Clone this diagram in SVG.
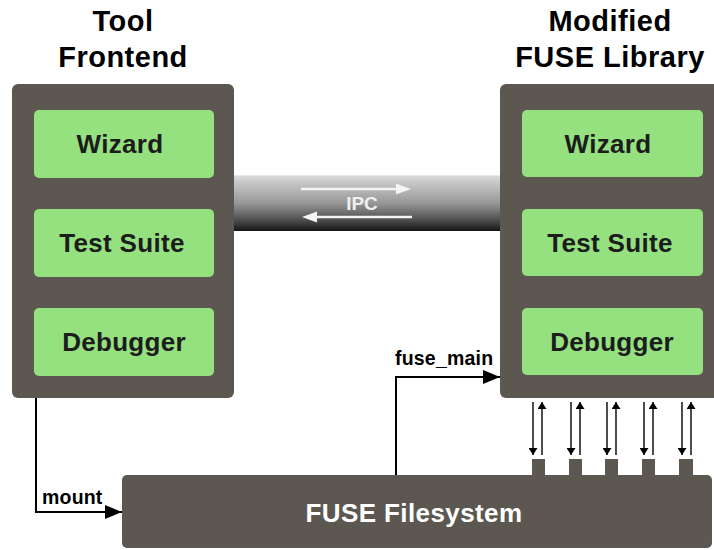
<svg xmlns="http://www.w3.org/2000/svg" width="714" height="550" viewBox="0 0 714 550">
<defs>
<style>
.panel{fill:#5c5750}
.box{fill:#95e07f}
.lbl{font-family:"Liberation Sans",Arial,sans-serif;font-weight:bold;font-size:26px;fill:#1c1c1c;text-anchor:middle;letter-spacing:0.3px}
.title{font-family:"Liberation Sans",Arial,sans-serif;font-weight:bold;font-size:29px;fill:#000;text-anchor:middle;letter-spacing:0.5px}
.cl{font-family:"Liberation Sans",Arial,sans-serif;font-weight:bold;font-size:19.5px;fill:#000;letter-spacing:0.2px}
.conn{fill:none;stroke:#000;stroke-width:2}
.thin{fill:none;stroke:#000;stroke-width:1.4}
</style>
<linearGradient id="tube" x1="0" y1="0" x2="0" y2="1">
<stop offset="0" stop-color="#dcdcdc"/>
<stop offset="0.12" stop-color="#c9c9c9"/>
<stop offset="0.5" stop-color="#989898"/>
<stop offset="0.82" stop-color="#4a4a4a"/>
<stop offset="1" stop-color="#141414"/>
</linearGradient>
<marker id="ah" viewBox="0 0 17 14" refX="17" refY="7" markerWidth="17" markerHeight="14" markerUnits="userSpaceOnUse" orient="auto">
<path d="M0 0 L17 7 L0 14 Z" fill="#000"/>
</marker>
<marker id="sh" viewBox="0 0 7 9" refX="7" refY="4.5" markerWidth="7" markerHeight="9" markerUnits="userSpaceOnUse" orient="auto">
<path d="M0 0 L7 4.5 L0 9 Z" fill="#000"/>
</marker>
</defs>
<rect width="714" height="550" fill="#fff"/>

<g id="ipc">
<rect x="234" y="175" width="266" height="56" fill="url(#tube)"/>
<line x1="234" y1="175.5" x2="500" y2="175.5" stroke="#e8e8e8" stroke-width="1"/>
<line x1="301" y1="189" x2="397" y2="189" stroke="#f4f4f4" stroke-width="2.5"/>
<path d="M396 183.5 L411 189 L396 194.5 Z" fill="#f4f4f4"/>
<line x1="316" y1="217" x2="412" y2="217" stroke="#f4f4f4" stroke-width="2.5"/>
<path d="M317 211.5 L302 217 L317 222.5 Z" fill="#f4f4f4"/>
<text x="362" y="210" font-family="Liberation Sans,Arial,sans-serif" font-weight="bold" font-size="19" fill="#f0f0f0" text-anchor="middle">IPC</text>
</g>

<g id="tool-frontend">
<text class="title" x="123" y="31">Tool</text>
<text class="title" x="123" y="67">Frontend</text>
<rect class="panel" x="12" y="84" width="222" height="314" rx="6"/>
<rect class="box" x="34" y="110" width="180" height="68" rx="5"/>
<text class="lbl" x="120" y="153">Wizard</text>
<rect class="box" x="34" y="209" width="180" height="68" rx="5"/>
<text class="lbl" x="122" y="252">Test Suite</text>
<rect class="box" x="34" y="308" width="180" height="68" rx="5"/>
<text class="lbl" x="124" y="351">Debugger</text>
</g>

<g id="fuse-library">
<text class="title" x="610" y="31">Modified</text>
<text class="title" x="610" y="67">FUSE Library</text>
<rect class="panel" x="500" y="84" width="220" height="314" rx="6"/>
<rect class="box" x="522" y="110" width="181" height="67" rx="5"/>
<text class="lbl" x="608" y="153">Wizard</text>
<rect class="box" x="522" y="209" width="181" height="67" rx="5"/>
<text class="lbl" x="610" y="252">Test Suite</text>
<rect class="box" x="522" y="308" width="181" height="67" rx="5"/>
<text class="lbl" x="612" y="351">Debugger</text>
</g>

<g id="fuse-filesystem">
<rect class="panel" x="122" y="475" width="590" height="73" rx="5"/>
<rect class="panel" x="532" y="459" width="13" height="18"/>
<rect class="panel" x="569" y="459" width="13" height="18"/>
<rect class="panel" x="605" y="459" width="13" height="18"/>
<rect class="panel" x="642" y="459" width="13" height="18"/>
<rect class="panel" x="679" y="459" width="14" height="18"/>
<text x="414" y="522" font-family="Liberation Sans,Arial,sans-serif" font-weight="bold" font-size="26" fill="#fff" text-anchor="middle" letter-spacing="0.4">FUSE Filesystem</text>
</g>

<g id="connectors">
<path class="conn" d="M36 398 V512 H122" marker-end="url(#ah)"/>
<text class="cl" x="42" y="504">mount</text>
<path class="conn" d="M396 475 V377 H500" marker-end="url(#ah)"/>
<text class="cl" x="395" y="365">fuse_main</text>
<line class="thin" x1="533" y1="402" x2="533" y2="455" marker-end="url(#sh)"/>
<line class="thin" x1="542" y1="455" x2="542" y2="402" marker-end="url(#sh)"/>
<line class="thin" x1="571" y1="402" x2="571" y2="455" marker-end="url(#sh)"/>
<line class="thin" x1="580" y1="455" x2="580" y2="402" marker-end="url(#sh)"/>
<line class="thin" x1="607" y1="402" x2="607" y2="455" marker-end="url(#sh)"/>
<line class="thin" x1="616" y1="455" x2="616" y2="402" marker-end="url(#sh)"/>
<line class="thin" x1="644" y1="402" x2="644" y2="455" marker-end="url(#sh)"/>
<line class="thin" x1="653" y1="455" x2="653" y2="402" marker-end="url(#sh)"/>
<line class="thin" x1="682" y1="402" x2="682" y2="455" marker-end="url(#sh)"/>
<line class="thin" x1="691" y1="455" x2="691" y2="402" marker-end="url(#sh)"/>
</g>
</svg>
